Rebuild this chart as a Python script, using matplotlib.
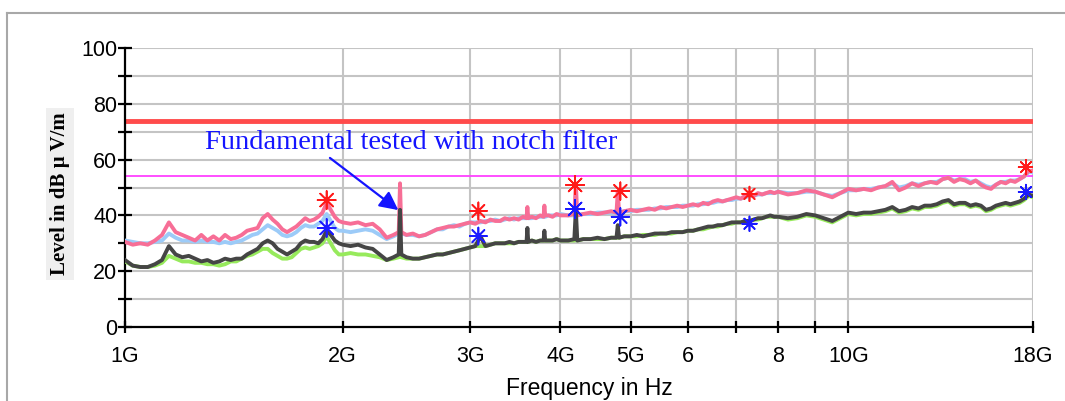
import matplotlib
matplotlib.use("Agg")
import matplotlib.pyplot as plt
from matplotlib.lines import Line2D
import numpy as np

# ---------------- data ----------------
freq_a = [1.000,1.025,1.050,1.075,1.100,1.125,1.150,1.175,1.200,1.225,1.250,1.275,1.300,1.325,1.350,1.375,1.400,1.425,1.450,1.475,
          1.500,1.525,1.550,1.575,1.600,1.625,1.650,1.675,1.700,1.725,1.750,1.775,1.800,1.825,1.850,1.875,1.900,1.925,1.950,1.975,2.000]
freq_b = [2.05,2.10,2.15,2.20,2.25,2.30,2.35,2.39,2.40,2.41,2.45,2.50,2.55,2.60,2.65,2.70,2.75,2.80,2.85,2.90,2.95,3.00,3.05,
          3.10,3.15,3.20,3.25,3.30,3.35,3.40,3.45,3.50,3.55,3.59,3.60,3.61,3.65,3.70,3.75,3.79,3.80,3.81,3.85,3.90,3.95,4.00]
freq_c = [4.10,4.18,4.20,4.22,4.30,4.40,4.50,4.60,4.70,4.78,4.80,4.82,4.90,5.00,5.10,5.20,5.30,5.40,5.50,5.60,5.70,5.80,
          5.90,6.00,6.10,6.20,6.30,6.40,6.50,6.60,6.70,6.80,6.90,7.00,7.10,7.20,7.30,7.40,7.50,7.60,7.70,7.80,7.90,8.00]
freq_d = [8.25,8.50,8.75,9.00,9.25,9.50,9.75,10.00,10.25,10.50,10.75,11.00,11.25,11.50,11.75,12.00,12.25,12.50,12.75,13.00,
          13.25,13.50,13.75,14.00,14.25,14.50,14.75,15.00,15.25,15.50,15.75,16.00,16.25,16.50,16.75,17.00,17.25,17.50,17.75,18.00]

# peak trace (pink)
peak_a = [30.5,29.5,30,29.5,31,33,37.5,34,33,32,31,33,31,32.5,31,33,31.5,32,33,34.5,35,35.5,39,40.5,38.5,37,35,34,35,36,
          37.5,39,38,38.5,39.5,41,44.5,42,39.5,38,37.5]
peak_b = [37,37.5,36.5,37,35,32,33, 34,51.5,34, 33,33.5,32.5,33,34,35,35.5,36,36,36.5,37,37.5,37,38,37.5,38.5,38,38,39,38.5,
          39,38.5,39.5, 39,43,39, 39.5,39,40, 39.5,43.5,40, 40,39.5,40.5,40]
peak_c = [40, 40.5,51.5,40, 40.5,41,40.5,41,41.5, 41,48.5,41, 41.5,42,41.5,42,42.5,42,43,42.5,43,43.5, 43,43.5,44,43.5,44.5,
          44,45,45.5,45,45.5, 46,46.5,46,47,47.5,47,48,47.5,48,48.5, 48,48.5]
peak_d = [47.5,48,49,48.5,47.5,46.5,48,49.5,49,49.5, 49,50,50.5,52,49,50,51.5,50.5,51.5,52, 51.5,53,53.5,52,53,52.5,51.5,
          52.5,51,50, 49.5,51,52,51.5,52.5,52,53,54,56,56]

# second peak trace (light blue)
peak2_a = [31,30.5,30,30,30.5,31,33.5,32,31,31, 30.5,31,30.5,30.5,30,30.5,30,30.5,31,32, 33,33.5,35,36.5,35.5,34.5,33,32.5,
           33,34, 35.5,36.5,36,36,37,38,40.5,38,35.5,34.5,34.5]
peak2_b = [34,34.5,35,34.5,33,31.5,32.5, 33.5,34,33.5, 33,33,32.5,33,34,35,35,36,36.5,36,37,37.5,37.5,37.5,38,38,38.5,38,
           38.5,39,38.5,39,39, 39,39.5,39, 39,39.5,39.5, 39.5,40,39.5, 40,40,40,40.5]
peak2_c = [40, 40,40.5,40, 40.5,40.5,41,41,41, 41,41.5,41, 41.5,41.5,42,42,42,42.5,42.5,43,43,43, 43.5,43.5,43.5,44,44,44.5,
           44.5,45,45,45.5, 45.5,46,46,46.5,47,47,47.5,47.5,48,48, 48,48.5]
peak2_d = [48,48,48.5,48.5,47.5,47,48,49,49,49.5, 49.5,50,50.5,51.5,50,50.5,51.5,51,51.5,52, 52,53,53.5,52.5,53,53,52,52.5,
           51.5,50.5, 50,51,52,52,52.5,52.5,53,54,55.5,55.5]

# average trace (dark gray)
avg_a = [24,22,21.5,21.5,22.5,24,29,26,25,25.5, 24.5,23.5,24,23,23.5,24.5,24,24.5,24.5,26, 27,28,30,31,30,28,27,26,27,28,
         30,31,30.5,30.5,30,31.5,34.5,33,31,30,29.5]
avg_b = [29,29.5,28.5,28,26,24,25, 26,42,26, 25,24.5,24.5,25,25.5,26,26,26.5,27,27.5,28,28.5,29,32.5,29,29.5,30,30,30,30.5,
         30,30.5,30.5, 30.5,35.5,30.5, 31,30.5,31, 31,34.5,31, 31,31,31.5,31]
avg_c = [31, 31.5,42,31, 31.5,31.5,32,31.5,32, 32,36.5,32, 32.5,32.5,33,32.5,33,33.5,33.5,33.5,34,34, 34,34.5,34.5,35,35.5,
         36,36,36.5,36.5,37, 37.5,37.5,37.5,38,38,38.5,39,39,39.5,40, 39.5,39.5]
avg_d = [39,39.5,40.5,40,39,38,39.5,41,40.5,41, 41,41.5,42,43,41.5,42,43,42.5,43.5,43.5, 44,45,45.5,44,44.5,44.5,43.5,44,
         43.5,42, 42.5,43.5,44,44.5,44,44.5,45,46,47.5,47]

# second average trace (green)
avg2_a = [23.5,22,21.5,21.5,22,23,25.5,24.5,23.5,23.5, 23,23,22.5,22.5,22,22.5,23.5,23.5,24.5,25.5, 26,27,28,28,26.5,25.5,
          24.5,24.5,25,26.5, 28,28.5,28,28.5,29,30,32.5,30,27.5,26,26]
avg2_b = [26.5,26,26,25.5,25,24,24.5, 25,25.5,25, 24.5,24.5,24.5,25,25.5,26,26,26.5,27,27.5,28,28.5,29,29,29,29.5,30,30,30,
          30,30,30.5,30.5, 30.5,31,30.5, 31,30.5,31, 31,31,31, 31,31,31.5,31]
avg2_c = [31, 31,31.5,31, 31.5,31.5,31.5,31.5,32, 32,32,32, 32.5,32.5,32.5,33,33,33,33.5,33.5,33.5,34, 34,34.5,34.5,35,35,
          35.5,36,36,36.5,37, 37,37.5,37.5,38,38,38.5,38.5,39,39.5,39.5, 39.5,39.5]
avg2_d = [38.5,39,40,39.5,38.5,37.5,39,40.5,40,40.5, 40.5,41,41.5,42.5,41,41.5,42.5,42,43,43, 43.5,44.5,45,43.5,44,44,43,
          43.5,43,41.5, 42,43,43.5,44,43.5,44,44.5,45.5,47,46.5]

limit_peak = 74
limit_avg = 54

mark_freq = [1.90, 3.08, 4.19, 4.84, 7.30, 17.6]
mark_peak = [45.5, 41.6, 50.9, 48.7, 47.7, 57.3]
mark_avg = [35.5, 32.6, 42.3, 39.5, 37.0, 48.4]

xtick_vals = [1, 2, 3, 4, 5, 6, 7, 8, 9, 10, 18]
xtick_labels = ["1G", "2G", "3G", "4G", "5G", "6", "", "8", "", "10G", "18G"]
ytick_vals = [0, 20, 40, 60, 80, 100]

annot_text = "Fundamental tested with notch filter"

# ---------------- figure ----------------
freq = np.array(freq_a + freq_b + freq_c + freq_d)
peak = np.array(peak_a + peak_b + peak_c + peak_d)
peak2 = np.array(peak2_a + peak2_b + peak2_c + peak2_d)
avg = np.array(avg_a + avg_b + avg_c + avg_d)
avg2 = np.array(avg2_a + avg2_b + avg2_c + avg2_d)

fig = plt.figure(figsize=(10.65, 4.01), dpi=100)
ax = fig.add_axes([125/1065, 1-327/401, (1033-125)/1065, (327-48)/401])

ax.set_xscale("log")
ax.set_xlim(1, 18)
ax.set_ylim(0, 100)

gcol = "#c4c4c4"
for yv in range(10, 101, 10):
    ax.axhline(yv, color=gcol, lw=1.5, zorder=0)
for xv in xtick_vals[1:]:
    ax.axvline(xv, color=gcol, lw=1.5, zorder=0)

ax.axhline(limit_peak, color="#ff4b4b", lw=3.5, zorder=2)
ax.axhline(limit_avg, color="#ff40ff", lw=1.3, zorder=2)

ax.plot(freq, peak2, color="#9ccbf8", lw=2.8, zorder=3)
ax.plot(freq, peak, color="#f76e96", lw=2.8, zorder=4)
ax.plot(freq, avg2, color="#97ea5c", lw=2.8, zorder=5)
ax.plot(freq, avg, color="#454545", lw=2.8, zorder=6)

msizes = [170, 150, 170, 160, 110, 110]
ax.scatter(mark_freq, mark_peak, s=msizes, marker=(8, 2, 0), color="#ff1a1a", linewidths=1.2, zorder=8)
ax.scatter(mark_freq, mark_avg, s=msizes, marker=(8, 2, 0), color="#1a1aff", linewidths=1.2, zorder=8)

ax.text(1.29, 63.8, annot_text, color="#1414ff", fontsize=20.5, family="Liberation Serif",
        ha="left", va="baseline", zorder=9)
ax.annotate("", xy=(2.387, 41.9), xytext=(1.92, 60.6),
            arrowprops=dict(arrowstyle="-|>", color="#1414ff", lw=1.6, mutation_scale=28,
                            shrinkA=0, shrinkB=0), zorder=9)

for side in ["top", "right"]:
    ax.spines[side].set_visible(False)
for side in ["left", "bottom"]:
    ax.spines[side].set_linewidth(1.6)
    ax.spines[side].set_color("black")

ax.set_xticks(xtick_vals)
ax.set_xticklabels(xtick_labels)
ax.xaxis.set_minor_locator(matplotlib.ticker.NullLocator())
ax.set_yticks(ytick_vals)
ax.set_yticks(list(range(10, 100, 20)), minor=True)
ax.tick_params(axis="y", which="both", direction="inout", length=10, width=1.6,
               labelsize=15.5, pad=0.5, colors="black")
ax.tick_params(axis="x", which="both", direction="inout", length=9, width=1.6,
               labelsize=15.5, pad=9, colors="black")
for lab in ax.get_xticklabels() + ax.get_yticklabels():
    lab.set_family("Liberation Sans")

fig.text(589/1065, 1-389/401, "Frequency in Hz", ha="center", va="center",
         fontsize=16.5, family="Liberation Sans")
fig.text(60/1065, 1-194/401, "Level in dB \u00b5 V/m", ha="center", va="center", rotation=90,
         fontsize=15, fontweight="bold", family="Liberation Serif",
         bbox=dict(facecolor="#efefef", edgecolor="none", pad=3))

fig.add_artist(Line2D([7/1065, 1], [1-13/401, 1-13/401], transform=fig.transFigure, color="#a8a8a8", lw=1.5))
fig.add_artist(Line2D([7/1065, 7/1065], [1-13/401, 0], transform=fig.transFigure, color="#a8a8a8", lw=1.5))

fig.savefig("out.png", dpi=100)
